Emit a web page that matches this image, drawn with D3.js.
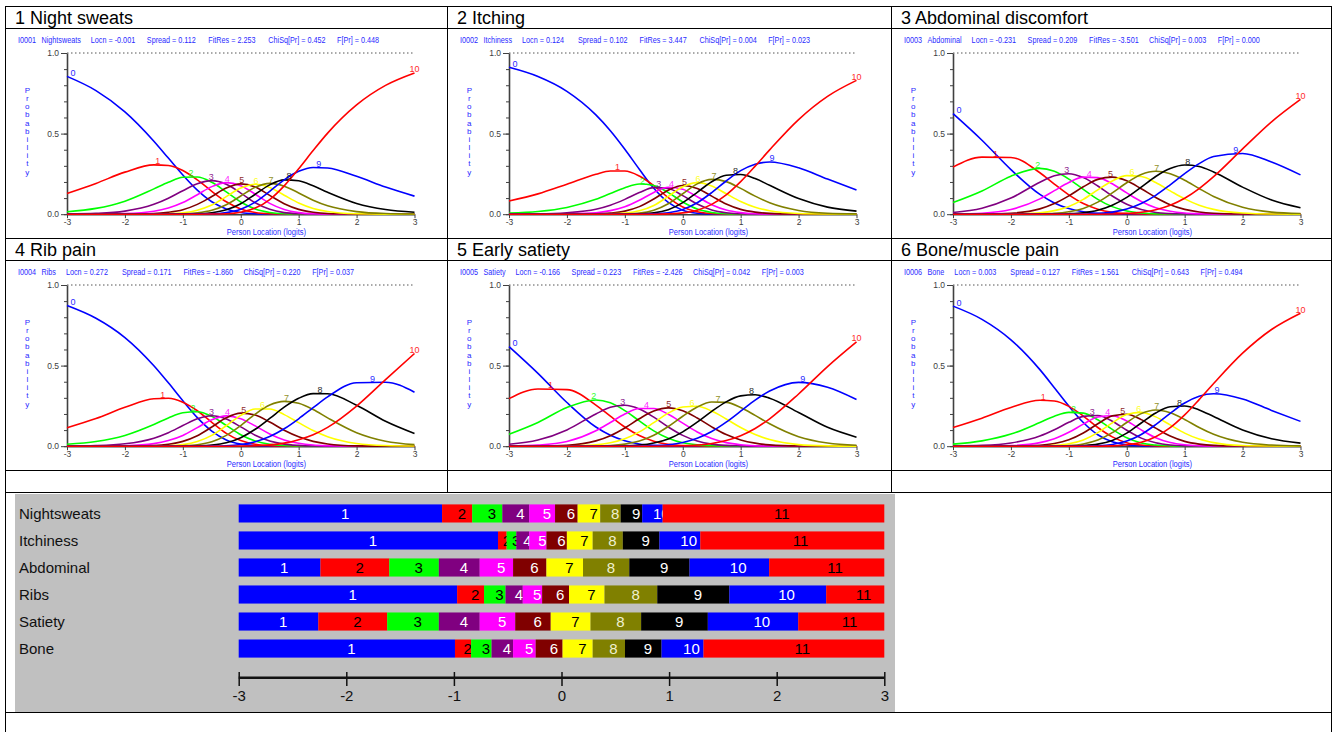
<!DOCTYPE html>
<html><head><meta charset="utf-8">
<script src="https://cdn.jsdelivr.net/npm/d3@7"></script>
<style>
html,body{margin:0;background:#fff}
svg{display:block}
text{font-family:Arial,"Liberation Sans",sans-serif}
</style>
</head><body>
<svg id="fig" width="1334" height="732"></svg>
<script>
// category probability curves (RUMM style) for six symptom items + threshold map

// person location grid the curve values were read at
const X = [-3,-2.5,-2,-1.5,-1.25,-1,-0.75,-0.5,-0.25,0,0.25,0.5,0.75,1,1.25,1.5,2,2.5,3];

const titles    = ['1 Night sweats','2 Itching','3 Abdominal discomfort','4 Rib pain','5 Early satiety','6 Bone/muscle pain'];
const itemIds   = ['I0001','I0002','I0003','I0004','I0005','I0006'];
const itemNames = ['Nightsweats','Itchiness','Abdominal','Ribs','Satiety','Bone'];
const locn   = ['-0.001','0.124','-0.231','0.272','-0.166','0.003'];
const spread = ['0.112','0.102','0.209','0.171','0.223','0.127'];
const fitres = ['2.253','3.447','-3.501','-1.860','-2.426','1.561'];
const chisq  = ['0.452','0.004','0.003','0.220','0.042','0.643'];
const fpr    = ['0.448','0.023','0.000','0.037','0.003','0.494'];

// probability of each category 0..10 at the X grid
const probNight = [
  [.855,.767,.635,.453,.348,.243,.149,.077,.033,.011,.003,.001,0,0,0,0,0,0,0],
  [.129,.191,.261,.306,.302,.271,.213,.142,.077,.033,.011,.003,.001,0,0,0,0,0,0],
  [.015,.036,.081,.157,.198,.229,.231,.198,.138,.076,.032,.011,.003,.001,0,0,0,0,0],
  [.001,.005,.019,.061,.099,.146,.189,.208,.186,.131,.071,.030,.010,.003,.001,0,0,0,0],
  [0,.001,.004,.018,.038,.072,.121,.171,.196,.177,.124,.067,.029,.010,.003,.001,0,0,0],
  [0,0,.001,.004,.012,.028,.061,.110,.162,.188,.169,.117,.065,.030,.012,.004,.001,0,0],
  [0,0,0,.001,.003,.009,.025,.057,.109,.162,.186,.166,.118,.070,.036,.017,.003,0,0],
  [0,0,0,0,.001,.002,.008,.024,.059,.113,.167,.191,.174,.132,.087,.052,.016,.004,.001],
  [0,0,0,0,0,.001,.002,.009,.027,.065,.124,.182,.213,.207,.176,.136,.067,.029,.012],
  [0,0,0,0,0,0,.001,.002,.010,.031,.075,.142,.213,.266,.290,.287,.235,.168,.112],
  [0,0,0,0,0,0,0,.001,.003,.012,.038,.091,.176,.282,.395,.503,.678,.799,.876]
];
const probItch = [
  [.911,.854,.762,.616,.518,.403,.279,.161,.073,.025,.006,.001,0,0,0,0,0,0,0],
  [.082,.126,.186,.248,.268,.268,.237,.177,.103,.045,.015,.004,.001,0,0,0,0,0,0],
  [.007,.017,.042,.092,.128,.164,.187,.178,.134,.076,.032,.011,.003,.001,0,0,0,0,0],
  [.001,.002,.009,.031,.056,.092,.134,.165,.159,.115,.063,.026,.009,.003,.001,0,0,0,0],
  [0,0,.002,.009,.022,.046,.086,.135,.167,.155,.108,.059,.026,.010,.003,.001,0,0,0],
  [0,0,0,.002,.007,.019,.047,.094,.149,.178,.160,.112,.063,.030,.013,.005,.001,0,0],
  [0,0,0,.001,.002,.007,.021,.054,.111,.170,.196,.175,.127,.079,.043,.021,.004,.001,0],
  [0,0,0,0,0,.002,.007,.025,.065,.127,.188,.216,.202,.160,.112,.071,.023,.006,.002],
  [0,0,0,0,0,0,.002,.008,.028,.072,.136,.201,.242,.246,.221,.179,.097,.044,.019],
  [0,0,0,0,0,0,0,.002,.009,.029,.071,.134,.206,.270,.310,.324,.288,.218,.150],
  [0,0,0,0,0,0,0,0,.002,.008,.025,.061,.120,.202,.298,.399,.587,.731,.830]
];
const probAbdo = [
  [.624,.459,.277,.123,.070,.035,.015,.005,.002,0,0,0,0,0,0,0,0,0,0],
  [.292,.354,.352,.257,.187,.120,.066,.031,.012,.004,.001,0,0,0,0,0,0,0,0],
  [.072,.144,.236,.284,.266,.218,.154,.092,.047,.020,.007,.002,.001,0,0,0,0,0,0],
  [.011,.037,.100,.198,.238,.251,.227,.175,.113,.062,.029,.011,.004,.001,0,0,0,0,0],
  [.001,.006,.029,.095,.146,.197,.230,.227,.189,.132,.079,.040,.018,.007,.003,.001,0,0,0],
  [0,.001,.006,.033,.066,.114,.170,.216,.230,.207,.158,.104,.059,.030,.014,.006,.001,0,0],
  [0,0,.001,.009,.022,.048,.092,.151,.206,.239,.234,.197,.145,.095,.056,.030,.007,.001,0],
  [0,0,0,.002,.005,.015,.036,.075,.132,.195,.246,.266,.251,.211,.159,.110,.043,.013,.004],
  [0,0,0,0,.001,.003,.009,.024,.055,.104,.168,.234,.283,.305,.296,.262,.168,.088,.040],
  [0,0,0,0,0,0,.001,.004,.013,.032,.066,.117,.182,.252,.314,.358,.377,.324,.244],
  [0,0,0,0,0,0,0,0,.001,.005,.012,.028,.056,.099,.159,.233,.405,.573,.712]
];
const probRibs = [
  [.873,.794,.674,.499,.393,.282,.177,.093,.039,.013,.004,.001,0,0,0,0,0,0,0],
  [.115,.172,.241,.294,.297,.273,.220,.148,.080,.035,.012,.003,.001,0,0,0,0,0,0],
  [.012,.029,.067,.135,.175,.207,.214,.185,.129,.071,.032,.012,.004,.001,0,0,0,0,0],
  [.001,.004,.015,.050,.084,.128,.170,.189,.169,.120,.068,.032,.013,.005,.001,0,0,0,0],
  [0,0,.003,.016,.035,.067,.115,.164,.188,.171,.126,.076,.039,.018,.007,.003,0,0,0],
  [0,0,0,.004,.012,.030,.065,.119,.176,.205,.193,.150,.099,.058,.030,.014,.002,0,0],
  [0,0,0,.001,.003,.010,.029,.067,.127,.191,.231,.231,.196,.146,.097,.059,.017,.004,.001],
  [0,0,0,0,.001,.003,.009,.027,.067,.128,.199,.255,.278,.266,.228,.176,.084,.031,.010],
  [0,0,0,0,0,0,.002,.007,.021,.053,.105,.172,.242,.297,.326,.325,.254,.155,.079],
  [0,0,0,0,0,0,0,.001,.003,.011,.028,.060,.108,.170,.239,.306,.394,.397,.335],
  [0,0,0,0,0,0,0,0,0,.001,.003,.008,.019,.040,.071,.117,.249,.413,.575]
];
const probSati = [
  [.618,.452,.271,.119,.068,.034,.014,.005,.002,0,0,0,0,0,0,0,0,0,0],
  [.295,.355,.351,.255,.186,.119,.066,.031,.012,.004,.001,0,0,0,0,0,0,0,0],
  [.074,.147,.240,.287,.269,.221,.157,.095,.049,.021,.008,.003,.001,0,0,0,0,0,0],
  [.012,.038,.101,.200,.241,.254,.231,.180,.119,.067,.032,.013,.005,.002,0,0,0,0,0],
  [.001,.007,.029,.096,.147,.200,.234,.234,.198,.143,.088,.047,.022,.009,.003,.001,0,0,0],
  [0,.001,.006,.033,.065,.113,.170,.218,.238,.220,.175,.120,.072,.039,.019,.008,.001,0,0],
  [0,0,.001,.008,.021,.046,.089,.146,.205,.243,.248,.218,.169,.116,.072,.041,.010,.002,0],
  [0,0,0,.001,.004,.013,.032,.068,.122,.186,.243,.274,.272,.240,.191,.139,.059,.020,.006],
  [0,0,0,0,.001,.002,.007,.020,.045,.089,.149,.216,.275,.312,.319,.298,.209,.117,.056],
  [0,0,0,0,0,0,.001,.003,.009,.023,.049,.091,.149,.217,.286,.342,.396,.366,.290],
  [0,0,0,0,0,0,0,0,.001,.003,.007,.017,.035,.065,.110,.170,.324,.494,.647]
];
const probBone = [
  [.869,.787,.660,.475,.363,.249,.147,.071,.027,.008,.002,0,0,0,0,0,0,0,0],
  [.116,.174,.240,.285,.280,.247,.187,.116,.058,.022,.007,.002,0,0,0,0,0,0,0],
  [.013,.033,.075,.147,.186,.210,.205,.164,.104,.052,.020,.007,.002,0,0,0,0,0,0],
  [.001,.005,.020,.063,.102,.148,.185,.190,.155,.099,.050,.021,.007,.002,.001,0,0,0,0],
  [0,.001,.004,.022,.046,.086,.137,.181,.189,.156,.101,.053,.023,.009,.003,.001,0,0,0],
  [0,0,.001,.006,.017,.040,.082,.139,.188,.198,.165,.112,.063,.030,.013,.005,.001,0,0],
  [0,0,0,.001,.005,.015,.039,.084,.145,.196,.210,.182,.132,.081,.044,.022,.004,.001,0],
  [0,0,0,0,.001,.004,.014,.038,.084,.147,.202,.225,.208,.166,.116,.074,.024,.007,.002],
  [0,0,0,0,0,.001,.004,.013,.036,.081,.144,.206,.245,.249,.225,.184,.100,.046,.019],
  [0,0,0,0,0,0,.001,.003,.011,.032,.073,.134,.204,.268,.310,.325,.293,.222,.154],
  [0,0,0,0,0,0,0,0,.002,.009,.025,.059,.115,.194,.289,.389,.577,.724,.825]
];
const probs = [probNight, probItch, probAbdo, probRibs, probSati, probBone];

// threshold map: category boundaries (logits) per item
const thrNight = [-1.11,-0.83,-0.55,-0.30,-0.06,0.15,0.36,0.55,0.75,0.94];
const thrItch  = [-0.59,-0.51,-0.42,-0.30,-0.14,0.05,0.29,0.57,0.91,1.29];
const thrAbdo  = [-2.24,-1.60,-1.14,-0.76,-0.45,-0.14,0.20,0.63,1.19,1.93];
const thrRibs  = [-0.97,-0.72,-0.52,-0.36,-0.18,0.07,0.40,0.89,1.56,2.46];
const thrSati  = [-2.26,-1.62,-1.14,-0.76,-0.43,-0.10,0.27,0.74,1.36,2.20];
const thrBone  = [-0.99,-0.84,-0.65,-0.45,-0.24,0.01,0.29,0.59,0.93,1.32];
const thresholds = [thrNight, thrItch, thrAbdo, thrRibs, thrSati, thrBone];
const mapTicks = [-3,-2,-1,0,1,2,3];

const CURVECOL = ['#0000ff','#ff0000','#00ff00','#800080','#ff00ff','#800000','#ffff00','#808000','#000000','#0000ff','#ff0000'];
const BANDTXT  = ['#fff','#000','#000','#fff','#fff','#fff','#000','#f0f0d0','#fff','#fff','#000'];
const BLUE = '#2a2aff', AX = '#404040';
const NARROW = 0.86;                 // RUMM's small labels are condensed
const STATSTEP = [56, 61.5, 60, 68.7]; // fixed field spacing of the stats line

const svg = d3.select('#fig');

// narrow blue caption text, returns its drawn width
function small(g, x, y, s, size){
  const t = g.append('text').attr('transform',`translate(${x},${y}) scale(${NARROW},1)`)
    .attr('font-size',size).attr('fill',BLUE).text(s);
  return t.node().getComputedTextLength()*NARROW;
}

// x of a curve's top, for placing its number label
function peakX(vals){
  const k = d3.maxIndex(vals);
  if(k===0 || k===vals.length-1) return X[k];
  const [x0,x1,x2] = [X[k-1],X[k],X[k+1]], [y0,y1,y2] = [vals[k-1],vals[k],vals[k+1]];
  const den = (x0-x1)*(x0-x2)*(x1-x2);
  const A = (x2*(y1-y0) + x1*(y0-y2) + x0*(y2-y1))/den;
  const B = (x2*x2*(y0-y1) + x1*x1*(y2-y0) + x0*x0*(y1-y2))/den;
  return A<0 ? Math.max(x0, Math.min(x2, -B/(2*A))) : x1;
}

// ---- table grid
const gl = svg.append('g').attr('stroke','#000').attr('stroke-width',1).attr('shape-rendering','crispEdges');
[6.5,28.5,238.5,260.5,470.5,492.5,712.5].forEach(y=>gl.append('line').attr('x1',5).attr('x2',1332).attr('y1',y).attr('y2',y));
[5.5,1331.5].forEach(x=>gl.append('line').attr('x1',x).attr('x2',x).attr('y1',6.5).attr('y2',732));
[447.5,891.5].forEach(x=>gl.append('line').attr('x1',x).attr('x2',x).attr('y1',6.5).attr('y2',492.5));

// ---- curve panels
const LEFTS = [5,447,891], TOPS = [6.5,238.5];
probs.forEach((P,i)=>panel(i, LEFTS[i%3], TOPS[Math.floor(i/3)], P));

function panel(i, left, top, P){
  const g = svg.append('g');
  g.append('text').attr('x',left+10).attr('y',top+17.5).attr('font-size',18).attr('fill','#000').text(titles[i]);

  // header line of fit statistics
  const hy = top+36.5;
  small(g, left+13, hy, itemIds[i], 8.4);
  let hx = left+36.5 + small(g, left+36.5, hy, itemNames[i], 8.4) + 10;
  [`Locn = ${locn[i]}`, `Spread = ${spread[i]}`, `FitRes = ${fitres[i]}`,
   `ChiSq[Pr] = ${chisq[i]}`, `F[Pr] = ${fpr[i]}`].forEach((p,j)=>{
    small(g, hx, hy, p, 8.4);
    hx += STATSTEP[j] || 0;
  });

  const x = d3.scaleLinear().domain([-3,3]).range([left+62, left+409.5]);
  const y = d3.scaleLinear().domain([0,1]).range([top+207.7, top+46.5]);

  // dotted line at 1.0
  g.append('line').attr('x1',x(-3)).attr('x2',x(3)).attr('y1',y(1)).attr('y2',y(1))
    .attr('stroke','#555').attr('stroke-dasharray','1.5 2.5');

  // minor y ticks
  g.append('g').attr('transform',`translate(${x(-3)},0)`)
    .call(d3.axisLeft(y).tickValues(d3.range(0,1.01,0.1)).tickSize(3).tickFormat(''))
    .call(a=>a.select('.domain').remove()).selectAll('line').attr('stroke',AX);
  // major y ticks
  const ya = g.append('g').attr('transform',`translate(${x(-3)},0)`)
    .call(d3.axisLeft(y).tickValues([0,0.5,1]).tickSize(6).tickSizeOuter(0).tickPadding(2).tickFormat(d3.format('.1f')));
  ya.select('.domain').attr('stroke',AX).attr('stroke-width',1.6);
  ya.selectAll('line').attr('stroke',AX);
  ya.selectAll('text').attr('font-size',8.5).attr('fill',AX).attr('font-family','Arial,"Liberation Sans",sans-serif');

  const xa = g.append('g').attr('transform',`translate(0,${y(0)})`)
    .call(d3.axisBottom(x).tickValues([-3,-2,-1,0,1,2,3]).tickSize(4).tickSizeOuter(0).tickPadding(1).tickFormat(d=>String(d)));
  xa.select('.domain').attr('stroke',AX).attr('stroke-width',1.6);
  xa.selectAll('line').attr('stroke',AX);
  xa.selectAll('text').attr('font-size',8.5).attr('fill',AX).attr('font-family','Arial,"Liberation Sans",sans-serif');

  small(g, left+221.7, top+228.5, 'Person Location (logits)', 8.8);
  [...'Probability'].forEach((ch,k)=>{
    g.append('text').attr('x',left+22.3).attr('y',top+86.5+k*8.15).attr('text-anchor','middle')
      .attr('font-size',8).attr('fill',BLUE).text(ch);
  });

  const line = d3.line().x((d,k)=>x(X[k])).y(d=>y(d)).curve(d3.curveMonotoneX);
  P.forEach((vals,c)=>{
    g.append('path').datum(vals).attr('d',line).attr('fill','none')
      .attr('stroke',CURVECOL[c]).attr('stroke-width',1.6).attr('stroke-linejoin','round');
  });
  P.forEach((vals,c)=>{
    const lx = Math.max(x(-3)+6, Math.min(x(3)+4, x(peakX(vals))));
    g.append('text').attr('x',lx).attr('y',y(d3.max(vals))-0.5).attr('text-anchor','middle')
      .attr('font-size',9).attr('fill',CURVECOL[c]).attr('opacity',0.85).text(c);
  });
}

// ---- threshold map
const mg = svg.append('g');
mg.append('rect').attr('x',15).attr('y',494).attr('width',880).attr('height',218).attr('fill','#c0c0c0');
const mx = d3.scaleLinear().domain([-3,3]).range([238.7,884.3]);
const rowY = d3.scaleBand().domain(itemNames).range([499,663]).paddingInner(0.33).paddingOuter(0.2);

itemNames.forEach((name,i)=>{
  const y0 = rowY(name), h = rowY.bandwidth();
  mg.append('text').attr('x',19).attr('y',y0+h/2+5.5).attr('font-size',15).attr('fill','#111').text(name);
  const edges = [-3, ...thresholds[i], 3];
  d3.range(11).forEach(b=>{
    const a = mx(edges[b]), z = mx(edges[b+1]);
    mg.append('rect').attr('x',a).attr('y',y0).attr('width',z-a).attr('height',h).attr('fill',CURVECOL[b]);
    mg.append('text').attr('x',(a+z)/2+0.5).attr('y',y0+h/2+5.5).attr('font-size',15)
      .attr('fill',BANDTXT[b]).text(b+1);
  });
});

const ma = mg.append('g').attr('transform','translate(0,672)')
  .call(d3.axisBottom(mx).tickValues(mapTicks).tickSize(14).tickPadding(4).tickFormat(d=>String(d)));
ma.select('.domain').remove();
ma.selectAll('line').attr('stroke','#111').attr('stroke-width',1.5);
ma.selectAll('text').attr('font-size',15).attr('fill','#111').attr('font-family','Arial,"Liberation Sans",sans-serif');
mg.append('line').attr('x1',mx(-3)).attr('x2',mx(3)).attr('y1',677.7).attr('y2',677.7)
  .attr('stroke','#111').attr('stroke-width',2.6);
</script>
</body></html>
